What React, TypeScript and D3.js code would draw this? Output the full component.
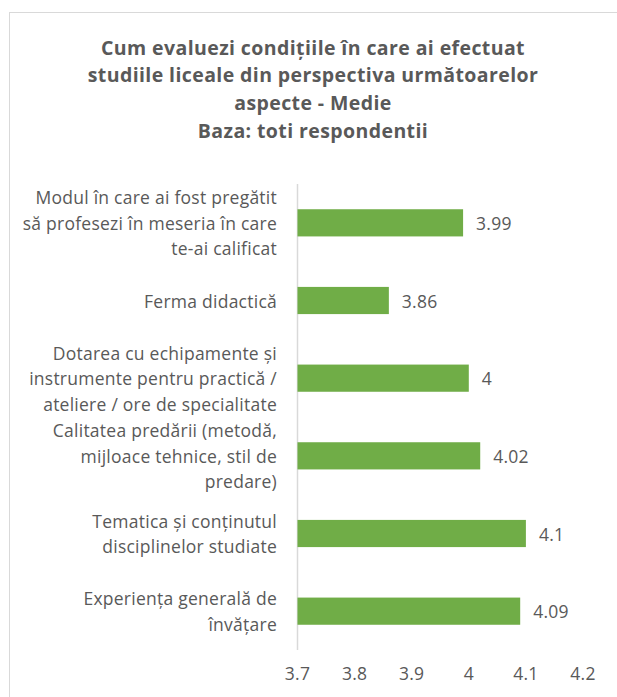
import React from "react";
import * as d3 from "d3";

const titleLines = [
  "Cum evaluezi condițiile în care ai efectuat",
  "studiile liceale din perspectiva următoarelor",
  "aspecte - Medie",
  "Baza: toti respondentii",
];

const categories = [
  "Modul în care ai fost pregătit|să profesezi în meseria în care|te-ai calificat",
  "Ferma didactică",
  "Dotarea cu echipamente și|instrumente pentru practică /|ateliere / ore de specialitate",
  "Calitatea predării (metodă,|mijloace tehnice, stil de|predare)",
  "Tematica și conținutul|disciplinelor studiate",
  "Experiența generală de|învățare",
];

const values = [3.99, 3.86, 4, 4.02, 4.1, 4.09];
const valueLabels = ["3.99", "3.86", "4", "4.02", "4.1", "4.09"];
const ticks = [3.7, 3.8, 3.9, 4, 4.1, 4.2];
const tickLabels = ["3.7", "3.8", "3.9", "4", "4.1", "4.2"];

const W = 617;
const H = 697;
const FONT = "'Open Sans', sans-serif";
const TEXT = "#595959";
const FS = 17.5;
const LS = 0.25;

export default function App() {
  const x = d3.scaleLinear().domain([3.7, 4.2]).range([297.5, 583]);
  const y = d3
    .scaleBand<string>()
    .domain(categories)
    .range([184, 650])
    .paddingInner(0.65)
    .paddingOuter(0.325);

  return (
    <svg
      width={W}
      height={H}
      style={{ position: "absolute", left: 0, top: 0, background: "#fff" }}
      fontFamily={FONT}
    >
      <rect x={9.5} y={12.5} width={W + 10} height={H + 10} fill="#fff" stroke="#d9d9d9" />
      {titleLines.map((t, i) => (
        <text
          key={i}
          x={313}
          y={47 + i * 27.7}
          textAnchor="middle"
          dominantBaseline="central"
          fontWeight="bold"
          fontSize={19.5}
          letterSpacing={0.4}
          fill={TEXT}
        >
          {t}
        </text>
      ))}
      <line x1={x(3.7)} x2={x(3.7)} y1={184} y2={650} stroke="#d9d9d9" strokeWidth={1.5} />
      {categories.map((c, i) => {
        const yc = (y(c) as number) + y.bandwidth() / 2;
        const lines = c.split("|");
        const lh = 25.5;
        return (
          <g key={c}>
            <rect
              x={x(3.7)}
              y={y(c)}
              width={x(values[i]) - x(3.7)}
              height={y.bandwidth()}
              fill="#70ad47"
            />
            <text
              x={x(values[i]) + 13}
              y={yc}
              dominantBaseline="central"
              fontSize={FS}
              letterSpacing={LS}
              fill={TEXT}
            >
              {valueLabels[i]}
            </text>
            {lines.map((l, j) => (
              <text
                key={j}
                x={277}
                y={yc + (j - (lines.length - 1) / 2) * lh}
                textAnchor="end"
                dominantBaseline="central"
                fontSize={FS}
                letterSpacing={LS}
                fill={TEXT}
              >
                {l}
              </text>
            ))}
          </g>
        );
      })}
      {ticks.map((t, i) => (
        <text
          key={t}
          x={x(t)}
          y={673}
          textAnchor="middle"
          dominantBaseline="central"
          fontSize={FS}
          letterSpacing={LS}
          fill={TEXT}
        >
          {tickLabels[i]}
        </text>
      ))}
    </svg>
  );
}
